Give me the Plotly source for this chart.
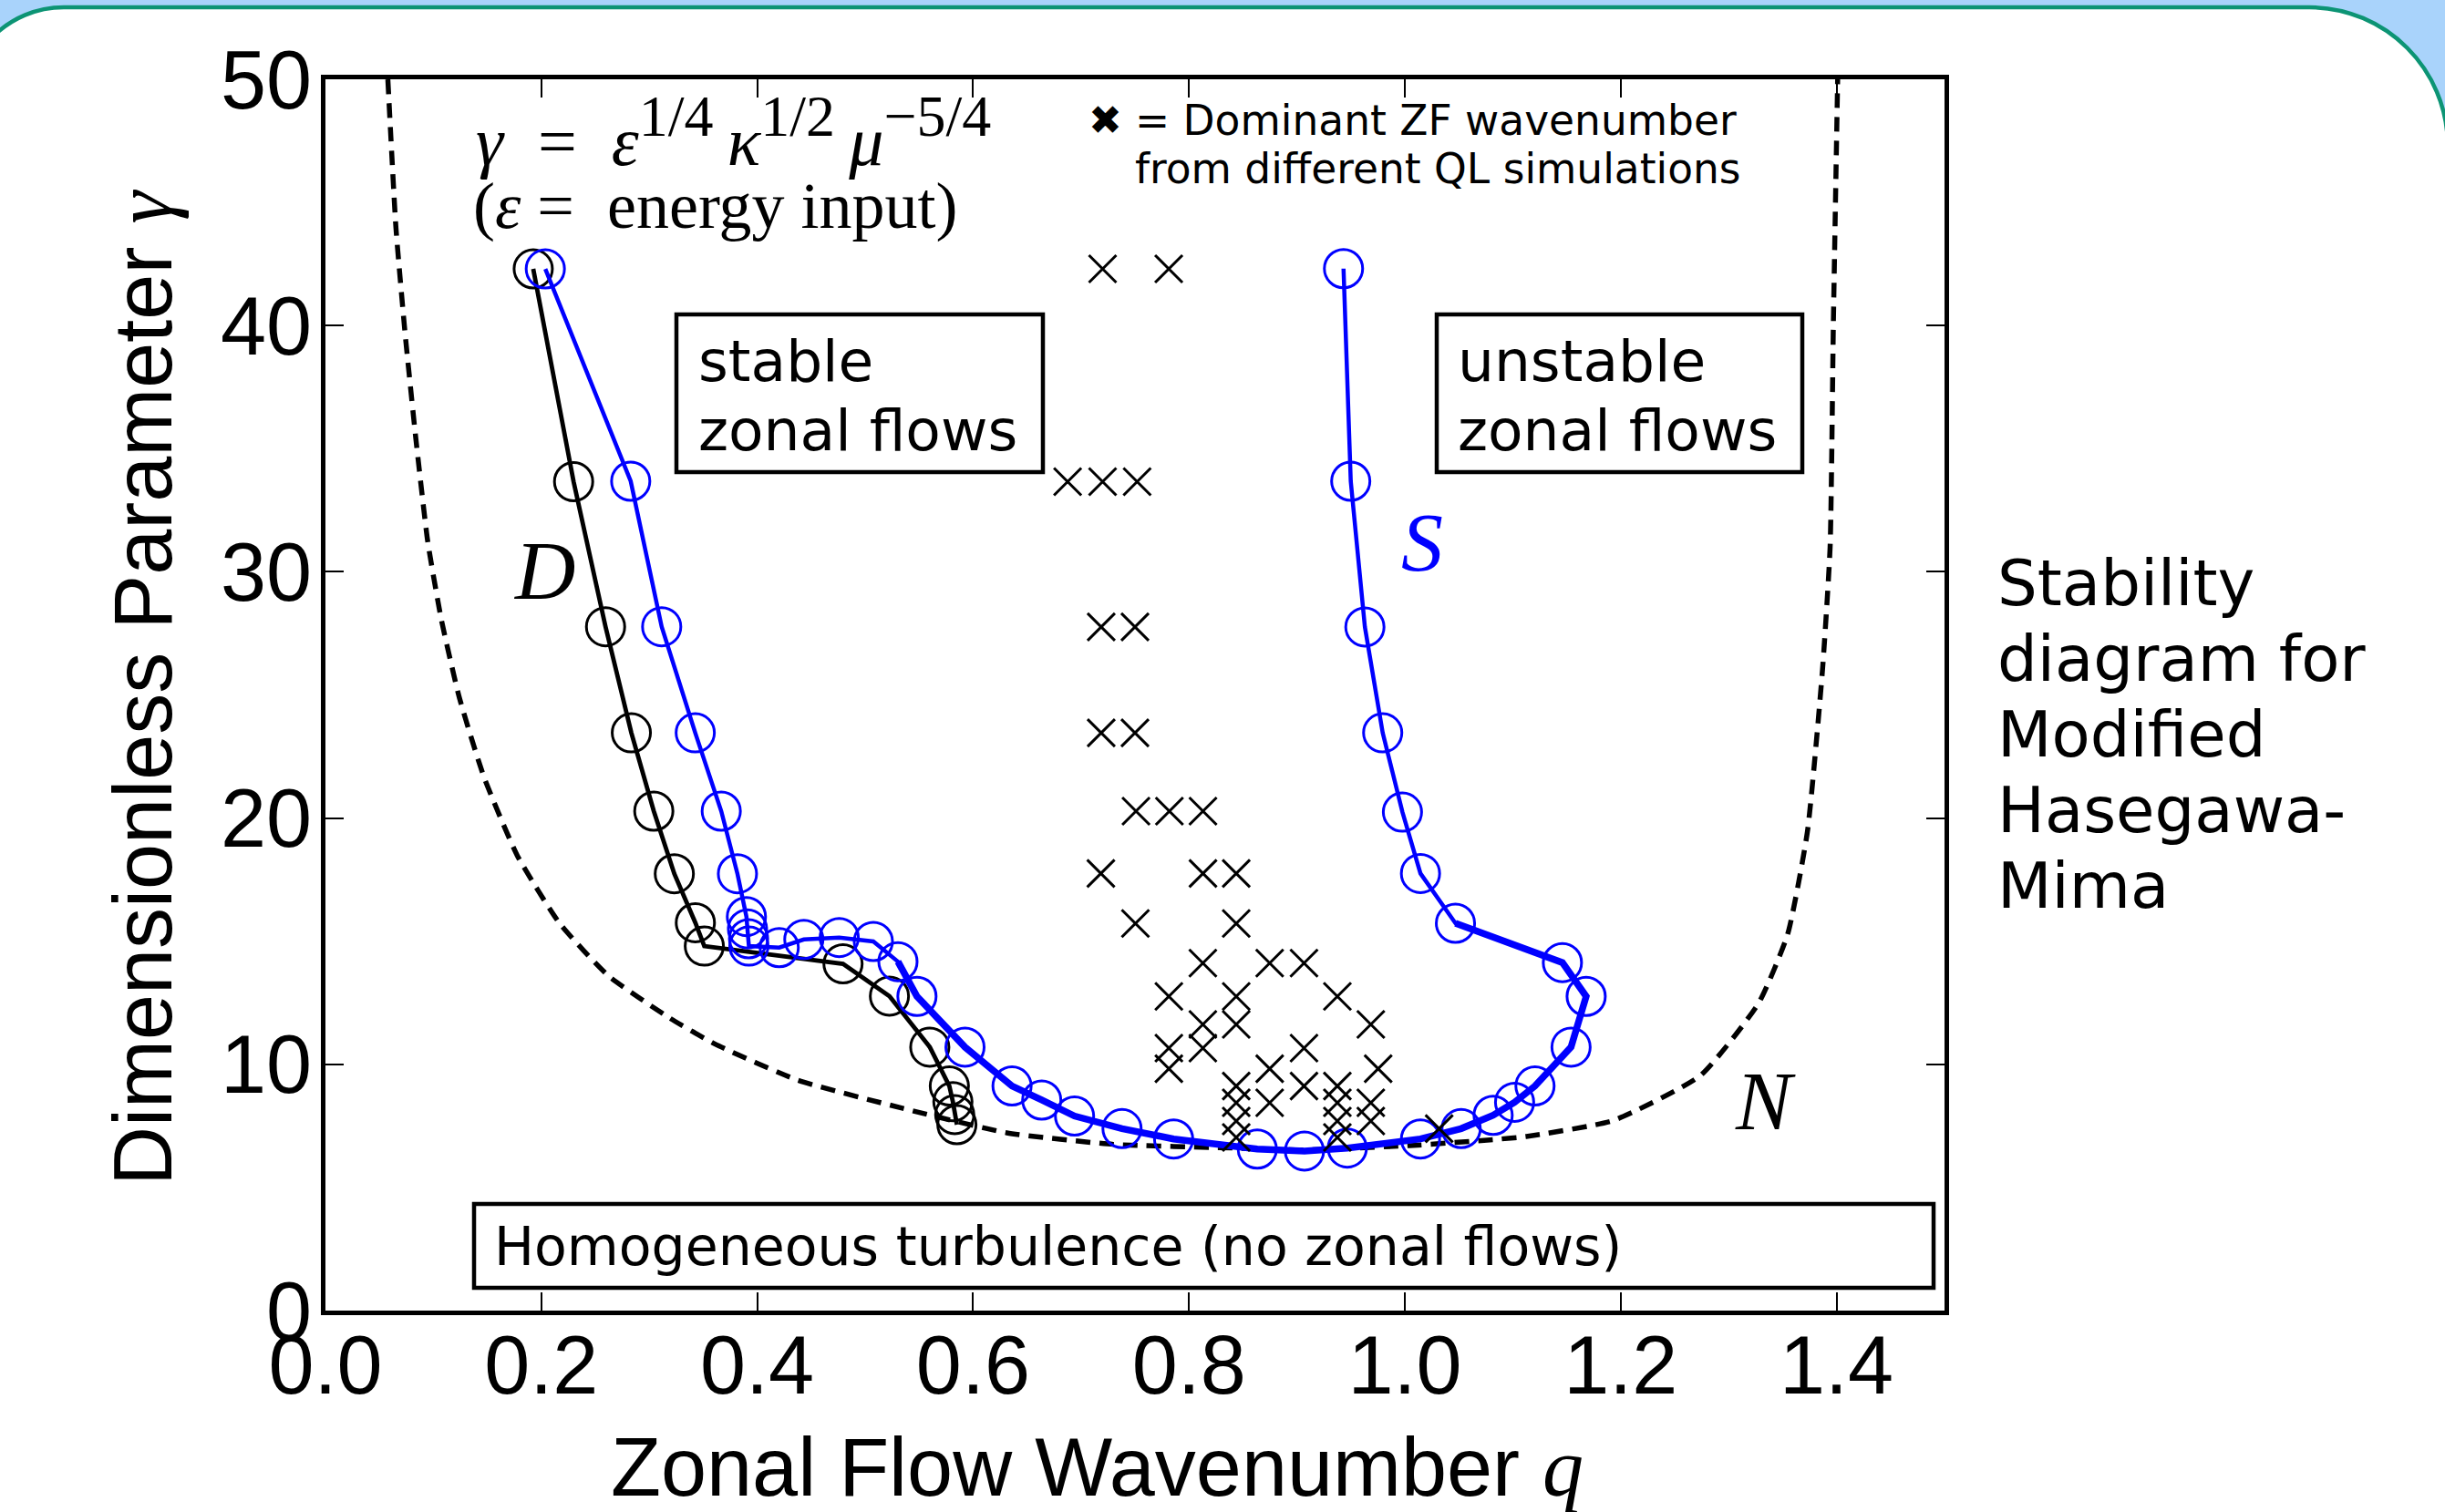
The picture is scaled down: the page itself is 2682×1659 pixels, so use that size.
import plotly.graph_objects as go

# ---------------- data ----------------
# Curve D (black, open circles)
d_q = [0.1925, 0.2299, 0.2595, 0.2834, 0.3042, 0.3232, 0.3427, 0.3510, 0.4795,
       0.5225, 0.5599, 0.578, 0.5813, 0.583, 0.585]
d_gamma = [42.3, 33.66, 27.77, 23.46, 20.28, 17.74, 15.75, 14.8, 14.08,
           12.77, 10.7, 9.12, 8.48, 7.96, 7.55]

# Curve S (blue, open circles)
s_q = [0.2037, 0.2828, 0.3115, 0.3426, 0.3667, 0.3817, 0.390, 0.391, 0.392, 0.3923,
       0.4204, 0.4432, 0.476, 0.5076, 0.5304, 0.548, 0.5925, 0.6361, 0.6636, 0.694,
       0.738, 0.7858, 0.8633, 0.907, 0.9467, 1.0145, 1.0522, 1.0818, 1.1017, 1.1206,
       1.154, 1.168, 1.146, 1.0469, 1.0145, 0.9978, 0.9795, 0.963, 0.9499, 0.9432]
s_gamma = [42.3, 33.68, 27.77, 23.46, 20.28, 17.74, 16.0, 15.5, 15.1, 14.8,
           14.74, 15.07, 15.15, 14.99, 14.17, 12.76, 10.7, 9.12, 8.55, 7.9,
           7.39, 6.97, 6.56, 6.48, 6.6, 6.97, 7.39, 7.93, 8.46, 9.12,
           10.7, 12.76, 14.13, 15.73, 17.75, 20.24, 23.46, 27.76, 33.68, 42.31]

# Curve N (black dashed)
n_q = [0.0578, 0.0653, 0.0737, 0.0836, 0.0948, 0.1075, 0.1243, 0.1469, 0.1778,
       0.2172, 0.2623, 0.3185, 0.3607, 0.4373, 0.5343, 0.6312, 0.73, 0.8433,
       0.904, 1.0045, 1.084, 1.1126, 1.1932, 1.274, 1.328, 1.3548, 1.373, 1.387,
       1.394, 1.397, 1.401]
n_gamma = [50.0, 43.97, 39.72, 35.47, 31.22, 28.03, 24.85, 21.66, 18.47,
           15.71, 13.59, 11.89, 10.83, 9.36, 8.22, 7.22, 6.75, 6.6,
           6.52, 6.7, 6.95, 7.07, 7.72, 9.55, 12.5, 15.3, 19.45, 26.05,
           31.0, 40.0, 50.0]

# Dominant ZF wavenumbers from QL simulations (crosses)
x_q = [0.72, 0.7813,
       0.6876, 0.72, 0.752,
       0.7187, 0.75,
       0.7187, 0.75,
       0.7509, 0.7819, 0.813,
       0.7184, 0.813, 0.8438,
       0.7504, 0.8438,
       0.8129, 0.8748, 0.9066,
       0.7814, 0.8438, 0.9375,
       0.8129, 0.8438, 0.9685,
       0.7814, 0.8129, 0.9066,
       0.7814, 0.8748, 0.9753,
       0.8438, 0.9066, 0.9375,
       0.8438, 0.8748, 0.9375, 0.9685,
       0.8438, 0.9375, 0.9685,
       1.0318,
       0.8438, 0.9375]
x_gamma = [42.3, 42.3,
           33.66, 33.66, 33.66,
           27.76, 27.76,
           23.46, 23.46,
           20.28, 20.28, 20.28,
           17.75, 17.75, 17.75,
           15.72, 15.72,
           14.11, 14.11, 14.11,
           12.76, 12.76, 12.76,
           11.62, 11.62, 11.62,
           10.66, 10.66, 10.66,
           9.82, 9.82, 9.82,
           9.12, 9.12, 9.12,
           8.44, 8.44, 8.44, 8.44,
           7.70, 7.70, 7.70,
           7.39,
           7.03, 7.03]

x_tickvals = [0.0, 0.2, 0.4, 0.6, 0.8, 1.0, 1.2, 1.4]
x_ticktext = ["0.0", "0.2", "0.4", "0.6", "0.8", "1.0", "1.2", "1.4"]
y_tickvals = [0, 10, 20, 30, 40, 50]
y_ticktext = ["0", "10", "20", "30", "40", "50"]

side_lines = ["Stability", "diagram for", "Modified", "Hasegawa-", "Mima"]

# ---------------- layout geometry (pixels) ----------------
W, H = 2682, 1659
L, R, T, B = 357, 2133, 87, 1438
BLUE = "#0000ff"


def xp(px):
    return (px - L) / (R - L)


def yp(py):
    return (B - py) / (B - T)


fig = go.Figure()

fig.add_trace(go.Scatter(
    x=n_q, y=n_gamma, mode="lines",
    line=dict(color="black", width=5.5, dash="16px,10px", shape="spline", smoothing=0.5),
    hoverinfo="skip", showlegend=False))

fig.add_trace(go.Scatter(
    x=d_q, y=d_gamma, mode="lines+markers",
    line=dict(color="black", width=4.8),
    marker=dict(symbol="circle-open", size=42, color="black", line=dict(width=3, color="black")),
    showlegend=False))

fig.add_trace(go.Scatter(
    x=s_q, y=s_gamma, mode="lines+markers",
    line=dict(color=BLUE, width=4.5),
    marker=dict(symbol="circle-open", size=42, color=BLUE, line=dict(width=3, color=BLUE)),
    showlegend=False))

i0 = s_q.index(0.5304)
i1 = s_q.index(1.0469)
fig.add_trace(go.Scatter(
    x=s_q[i0:i1 + 1], y=s_gamma[i0:i1 + 1], mode="lines",
    line=dict(color=BLUE, width=7.5),
    hoverinfo="skip", showlegend=False))

fig.add_trace(go.Scatter(
    x=x_q, y=x_gamma, mode="markers",
    marker=dict(symbol="x-thin", size=30, color="black", line=dict(width=3, color="black")),
    showlegend=False))

# ---------------- shapes ----------------
k = 0.5523
xl, xr, yt, yb = -40, 2685, 8, 1720
rl, rr = 110, 152


def P(px, py):
    return f"{xp(px):.5f},{yp(py):.5f}"


card = (f"M{P(xl, yb)} L{P(xl, yt + rl)} "
        f"C{P(xl, yt + rl - k * rl)} {P(xl + rl - k * rl, yt)} {P(xl + rl, yt)} "
        f"L{P(xr - rr, yt)} "
        f"C{P(xr - rr + k * rr, yt)} {P(xr, yt + rr - k * rr)} {P(xr, yt + rr)} "
        f"L{P(xr, yb)} Z")

shapes = [
    dict(type="path", xref="paper", yref="paper", path=card, layer="below",
         fillcolor="white", line=dict(color="#0c9474", width=4.5)),
    dict(type="rect", xref="paper", yref="paper", x0=xp(742), x1=xp(1144), y0=yp(518), y1=yp(345),
         line=dict(color="black", width=4.5), fillcolor="rgba(0,0,0,0)"),
    dict(type="rect", xref="paper", yref="paper", x0=xp(1576), x1=xp(1977), y0=yp(518), y1=yp(345),
         line=dict(color="black", width=4.5), fillcolor="rgba(0,0,0,0)"),
    dict(type="rect", xref="paper", yref="paper", x0=xp(520), x1=xp(2121), y0=yp(1413), y1=yp(1321),
         line=dict(color="black", width=4.5), fillcolor="rgba(0,0,0,0)"),
]

SANS = "DejaVu Sans"
SERIF = "Liberation Serif"
AX = "Liberation Sans"

ann = []


def txt(text, px, py, size, family=SANS, color="black", xanchor="left", angle=0):
    ann.append(dict(text=text, x=xp(px), y=yp(py), xref="paper", yref="paper",
                    xanchor=xanchor, yanchor="middle", showarrow=False, textangle=angle,
                    font=dict(family=family, size=size, color=color)))


# boxes text
txt("stable", 764, 396, 63)
txt("zonal flows", 764, 472, 63)
txt("unstable", 1597, 396, 63)
txt("zonal flows", 1597, 472, 63)
txt("Homogeneous turbulence (no zonal flows)", 540, 1368, 58.5)

# legend note
txt("✖", 1192, 131, 44)
txt("= Dominant ZF wavenumber", 1243, 132, 45.5)
txt("from different QL simulations", 1243, 185, 45.5)

# formula
SUP = "<sup><span style='font-size:64px'>{}</span></sup>"
formula = ("<i>γ</i>\u2002=\u2002<i>ε</i>" + SUP.format("1/4") + "\u2009<i>κ</i>"
           + SUP.format("1/2") + "\u2009<i>μ</i>" + SUP.format("−5/4"))
txt(formula, 520, 144, 76, family=SERIF)
txt("(<i>ε</i> =  energy input)", 517, 226, 72, family=SERIF)

# curve labels
txt("<i>D</i>", 597, 626, 92, family=SERIF, xanchor="center")
txt("<i>S</i>", 1560, 595, 92, family=SERIF, color=BLUE, xanchor="center")
txt("<i>N</i>", 1936, 1208, 92, family=SERIF, xanchor="center")

# side title
for i, line in enumerate(side_lines):
    txt(line, 2189, 640 + 83 * i, 69)

# axis titles
txt("Zonal Flow Wavenumber <span style='font-family:Liberation Serif'><i>q</i></span>",
    1203, 1610, 90, family=AX, xanchor="center")
txt("Dimensionless Parameter <span style='font-family:Liberation Serif'><i>γ</i></span>",
    157, 755, 90, family=AX, xanchor="center", angle=-90)

axis_common = dict(showline=True, linecolor="black", linewidth=5, mirror="ticks",
                   ticks="inside", ticklen=20, tickwidth=2.2, tickcolor="black",
                   showgrid=False, zeroline=False,
                   tickfont=dict(family=AX, size=90, color="black"))

fig.update_layout(
    width=W, height=H, autosize=False,
    margin=dict(l=L, r=W - R, t=T, b=H - B, pad=0),
    paper_bgcolor="#a9d3fb", plot_bgcolor="rgba(0,0,0,0)",
    xaxis=dict(range=[0, 1.5], tickvals=x_tickvals, ticktext=x_ticktext,
               ticklabelstandoff=-22, **axis_common),
    yaxis=dict(range=[0, 50], tickvals=y_tickvals, ticktext=y_ticktext,
               ticklabelstandoff=-8, **axis_common),
    shapes=shapes, annotations=ann, showlegend=False,
)

fig.write_html("out.html")
